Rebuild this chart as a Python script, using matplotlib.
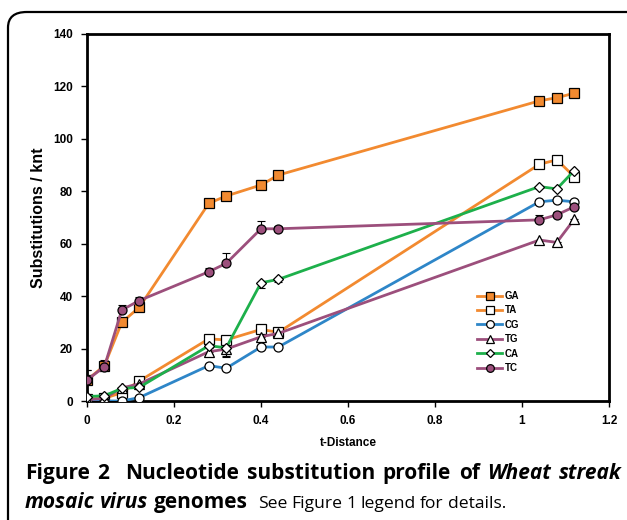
"""Nucleotide substitution profile of Wheat streak mosaic virus genomes."""

import matplotlib
matplotlib.use("Agg")
import matplotlib.pyplot as plt
from matplotlib.patches import FancyBboxPatch

# ---------------------------------------------------------------------------
# Data
# ---------------------------------------------------------------------------
t_distance = [0.0, 0.04, 0.08, 0.12, 0.28, 0.32, 0.40, 0.44, 1.04, 1.08, 1.12]

ga = [8.0, 13.5, 30.0, 35.7, 75.4, 78.2, 82.4, 86.2, 114.5, 115.7, 117.4]
ta = [0.8, 1.0, 3.2, 7.6, 23.7, 23.3, 27.3, 26.2, 90.3, 92.0, 85.6]
cg = [0.0, 0.0, 0.0, 1.3, 13.5, 12.5, 20.6, 20.6, 76.0, 76.6, 76.0]
tg = [0.5, 1.0, 5.0, 6.5, 18.8, 19.8, 24.5, 25.8, 61.4, 60.5, 69.3]
ca = [1.7, 2.0, 4.8, 5.2, 21.1, 20.3, 45.1, 46.4, 81.8, 80.9, 87.9]
tc = [8.0, 13.1, 34.7, 38.3, 49.3, 52.5, 65.7, 65.7, 69.1, 71.0, 74.1]

# one-sided error bars (upper for GA/TC, lower for TG/CA)
ga_err = [4.0, 1.5, 1.0, 1.0, 1.0, 1.0, 2.0, 1.0, 1.0, 1.0, 1.0]
tc_err = [4.0, 2.5, 2.0, 1.5, 1.5, 4.0, 3.0, 1.0, 2.0, 1.0, 1.0]
tg_err = [0.5, 0.5, 0.5, 0.5, 1.0, 3.0, 1.0, 1.0, 0.5, 0.5, 0.5]
ca_err = [0.5, 0.5, 0.5, 0.5, 1.0, 3.0, 2.0, 1.0, 0.5, 0.5, 0.5]

series = [
    ("GA", ga, "#F28A30", "s", "#F28A30", ga_err, "up"),
    ("TA", ta, "#F28A30", "s", "white", None, None),
    ("CG", cg, "#2E86C8", "o", "white", None, None),
    ("TG", tg, "#9C4F7C", "^", "white", tg_err, "down"),
    ("CA", ca, "#1DB04B", "D", "white", ca_err, "down"),
    ("TC", tc, "#9C4F7C", "o", "#9C4F7C", tc_err, "up"),
]

x_ticks = [0, 0.2, 0.4, 0.6, 0.8, 1.0, 1.2]
x_tick_labels = ["0", "0.2", "0.4", "0.6", "0.8", "1", "1.2"]
y_ticks = [0, 20, 40, 60, 80, 100, 120, 140]

# caption words: (text, weight, style, relative gap before the next word)
caption_line1 = [
    ("Figure", "bold", "normal", 1), ("2", "bold", "normal", 2),
    ("Nucleotide", "bold", "normal", 1), ("substitution", "bold", "normal", 1),
    ("profile", "bold", "normal", 1), ("of", "bold", "normal", 1),
    ("Wheat", "bold", "italic", 1), ("streak", "bold", "italic", 0),
]
caption_line2_bold = [
    ("mosaic", "bold", "italic", 1), ("virus", "bold", "italic", 1),
    ("genomes", "bold", "normal", 0),
]
caption_line2_plain = [
    ("See", "normal", "normal", 1), ("Figure", "normal", "normal", 1),
    ("1", "normal", "normal", 1), ("legend", "normal", "normal", 1),
    ("for", "normal", "normal", 1), ("details.", "normal", "normal", 0),
]

plt.rcParams["font.family"] = ["Liberation Sans", "DejaVu Sans"]

W, H = 627, 520
fig = plt.figure(figsize=(W / 100, H / 100), dpi=100)

# rounded figure border (cut off at right and bottom as in the page crop)
border = FancyBboxPatch(
    (8 / W, -0.2), 1.2, 1 - 12 / H + 0.2,
    boxstyle="round,pad=0,rounding_size=0.03",
    transform=fig.transFigure, fill=False, lw=1.6, ec="black", clip_on=False,
)
fig.patches.append(border)

ax = fig.add_axes([87 / W, 1 - 401 / H, (609 - 87) / W, (401 - 34) / H])

for name, ys, color, marker, face, err, side in series:
    ms = 6.5
    if marker == "D":
        ms = 5.2
    if marker == "^":
        ms = 7
    if err is not None:
        yerr = [[0] * len(err), err] if side == "up" else [err, [0] * len(err)]
        ax.errorbar(t_distance, ys, yerr=yerr, fmt="none", ecolor="black",
                    elinewidth=0.8, capsize=3, capthick=0.8, zorder=2)
    ax.plot(t_distance, ys, color=color, lw=2, marker=marker, ms=ms,
            mfc=face, mec="black", mew=0.9, label=name, zorder=3)

ax.set_xlim(0, 1.2)
ax.set_ylim(0, 140)
ax.set_xticks(x_ticks)
ax.set_xticklabels(x_tick_labels)
ax.set_yticks(y_ticks)
for spine in ax.spines.values():
    spine.set_linewidth(2)
ax.tick_params(direction="out", length=4, width=1, labelsize=8.5, pad=6)
for lbl in ax.get_xticklabels() + ax.get_yticklabels():
    lbl.set_fontweight("bold")

ax.set_xlabel("t-Distance", fontsize=8.5, fontweight="bold", labelpad=7)
ax.set_ylabel("Substitutions / knt", fontsize=11.5, fontweight="bold", labelpad=5)

leg = ax.legend(loc="upper left", bbox_to_anchor=(0.74, 0.31), frameon=False,
                prop={"weight": "bold", "size": 7}, handlelength=2.6,
                labelspacing=0.45, handletextpad=0.2, borderaxespad=0,
                markerscale=0.85)

# ---------------------------------------------------------------------------
# Caption: whole words, spread to the same extents as the journal layout
# ---------------------------------------------------------------------------
cap_font = ["Open Sans", "DejaVu Sans"]
renderer = fig.canvas.get_renderer()


def set_words(words, y_px, x0, x1, size):
    texts = []
    for text, weight, style, _ in words:
        t = fig.text(0, 1 - y_px / H, text, fontsize=size, family=cap_font,
                     fontweight=weight, fontstyle=style,
                     va="baseline", ha="left")
        texts.append((t, t.get_window_extent(renderer=renderer).width))
    units = sum(w[3] for w in words)
    gap = (x1 - x0 - sum(w for _, w in texts)) / units
    x = x0
    for (t, w), word in zip(texts, words):
        t.set_x(x / W)
        x += w + gap * word[3]


set_words(caption_line1, 479, 25, 622, 15)
set_words(caption_line2_bold, 508, 25, 248, 15)
set_words(caption_line2_plain, 508, 258, 506, 12.6)

fig.savefig("out.png", dpi=100)
